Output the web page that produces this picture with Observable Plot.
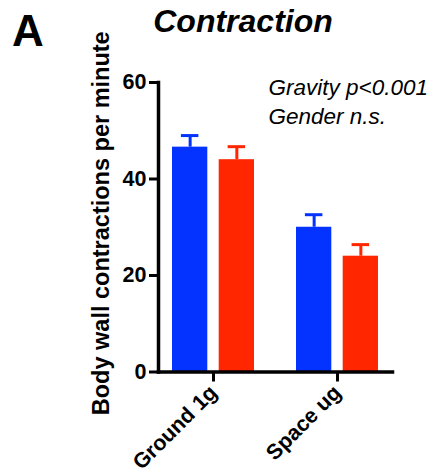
<!DOCTYPE html>
<html>
<head>
<meta charset="utf-8">
<script src="https://cdn.jsdelivr.net/npm/d3@7"></script>
<script src="https://cdn.jsdelivr.net/npm/@observablehq/plot@0.6"></script>
<style>
  body { margin: 0; background: #fff; }
</style>
</head>
<body>
<div id="chart"></div>
<script>
// ---- data ----
const groups = ["Ground 1g", "Space ug"];
const series = ["Male", "Female"];
const maleMeans = [46.6, 30.0];
const maleErrors = [2.4, 2.6];
const femaleMeans = [44.0, 24.0];
const femaleErrors = [2.7, 2.4];
const yTicks = [0, 20, 40, 60];
const title = "Contraction";
const panelLetter = "A";
const yLabel = "Body wall contractions per minute";
const statsText = "Gravity p<0.001\nGender n.s.";

// table for the marks
const rows = [];
groups.forEach((g, i) => {
  rows.push({group: g, series: series[0], mean: maleMeans[i], err: maleErrors[i]});
  rows.push({group: g, series: series[1], mean: femaleMeans[i], err: femaleErrors[i]});
});
const male = rows.filter(d => d.series === "Male");
const female = rows.filter(d => d.series === "Female");

// geometry (styles)
const BW = 82.2;     // band width of a group
const BAR = 35.5;    // width of one bar
const CAP = 17.7;    // width of error cap
const GAP = BW - BAR;
const CAPIN = (BAR - CAP) / 2;
const OFF = BW / 2 - BAR / 2; // offset from group center to bar center
const BLUE = "#0433FF";
const RED = "#FF2600";
const FONT = "'Liberation Sans', Arial, Helvetica, sans-serif";

const plot = Plot.plot({
  width: 435,
  height: 474,
  marginLeft: 158,
  marginRight: 43,
  marginTop: 82,
  marginBottom: 102.5,
  style: {fontFamily: FONT, fontWeight: "bold", fontSize: "21px", background: "white", color: "black"},
  x: {domain: groups, paddingInner: 0.337, paddingOuter: 0.112, axis: null},
  y: {domain: [0, 60], axis: null},
  marks: [
    // bars
    Plot.barY(male, {x: "group", y: "mean", fill: BLUE, insetLeft: 0, insetRight: GAP}),
    Plot.barY(female, {x: "group", y: "mean", fill: RED, insetLeft: GAP, insetRight: 0}),
    // error stems
    Plot.ruleX(male, {x: "group", y1: "mean", y2: d => d.mean + d.err, stroke: BLUE, strokeWidth: 3, dx: -OFF}),
    Plot.ruleX(female, {x: "group", y1: "mean", y2: d => d.mean + d.err, stroke: RED, strokeWidth: 3, dx: OFF}),
    // error caps
    Plot.tickY(male, {x: "group", y: d => d.mean + d.err, stroke: BLUE, strokeWidth: 3, insetLeft: CAPIN, insetRight: GAP + CAPIN}),
    Plot.tickY(female, {x: "group", y: d => d.mean + d.err, stroke: RED, strokeWidth: 3, insetLeft: GAP + CAPIN, insetRight: CAPIN}),
    // axes
    Plot.axisY({ticks: yTicks, tickSize: 9, tickPadding: 3, strokeWidth: 3, label: null, fontSize: 21.5, fontWeight: "bold"}),
    Plot.axisX({tickSize: 10, tickPadding: 7, tickRotate: -45, strokeWidth: 3, label: null, fontSize: 21.5, fontWeight: "bold"}),
    Plot.frame({anchor: "left", strokeWidth: 3.5, strokeLinecap: "square"}),
    Plot.frame({anchor: "bottom", strokeWidth: 3.5, strokeLinecap: "square"}),
    // y label
    Plot.text([yLabel], {frameAnchor: "left", text: d => d, rotate: -90, dx: -57, dy: -4, textAnchor: "middle", lineAnchor: "middle", fontSize: 23.5, fontWeight: "bold"}),
    // title and panel letter
    Plot.text([title], {frameAnchor: "top-left", text: d => d, dx: 84.5, dy: -51, textAnchor: "middle", lineAnchor: "bottom", fontSize: 32, fontWeight: "bold", fontStyle: "italic"}),
    Plot.text([panelLetter], {frameAnchor: "top-left", text: d => d, dx: -146.5, dy: -37, textAnchor: "start", lineAnchor: "bottom", fontSize: 44, fontWeight: "bold"}),
    // stats annotation
    Plot.text([statsText], {frameAnchor: "top-left", text: d => d, dx: 110, dy: 41, textAnchor: "start", lineAnchor: "bottom", lineHeight: 1.25, fontSize: 22.5, fontWeight: "normal", fontStyle: "italic"})
  ]
});
document.getElementById("chart").appendChild(plot);
</script>
</body>
</html>
